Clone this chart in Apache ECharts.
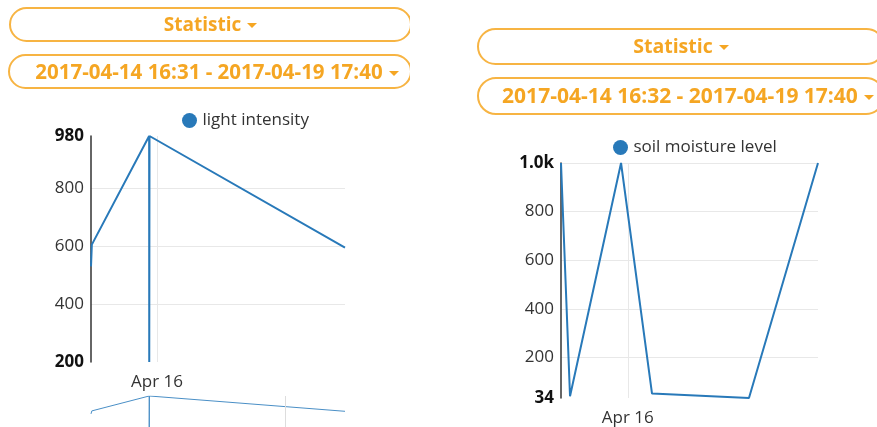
<!DOCTYPE html>
<html>
<head>
<meta charset="utf-8">
<script src="https://cdn.jsdelivr.net/npm/echarts@6/dist/echarts.min.js"></script>
<style>
  html, body { margin: 0; padding: 0; background: #fff; }
  body { width: 877px; height: 427px; position: relative; overflow: hidden; font-family: "Open Sans", sans-serif; }
  #chart { position: absolute; left: 0; top: 0; width: 877px; height: 427px; }
  .panel { position: absolute; top: 0; height: 427px; overflow: hidden; }
  .pill {
    position: absolute; box-sizing: border-box; background: #fff;
    border: 2px solid #f7b443; border-radius: 19px;
    color: #f5a623; font-weight: 700; font-size: 19px;
    text-align: center; white-space: nowrap;
  }
  .pill.date { font-size: 20.5px; }
  .right .pill { font-size: 19.5px; }
  .right .pill.date { font-size: 21px; }
  .caret {
    display: inline-block; width: 0; height: 0; margin-left: 6px; vertical-align: middle;
    border-top: 5px solid #f5a623; border-left: 5px solid transparent; border-right: 5px solid transparent;
  }
</style>
</head>
<body>
<div id="chart"></div>
<div class="panel" style="left:0;width:410px">
  <div class="pill" style="left:9px;top:7px;width:403px;height:35px;line-height:30px">Statistic<span class="caret"></span></div>
  <div class="pill date" style="left:8px;top:54px;width:404px;height:35px;line-height:30px;padding-left:14px">2017-04-14 16:31 - 2017-04-19 17:40<span class="caret"></span></div>
</div>
<div class="panel right" style="left:470px;width:407px">
  <div class="pill" style="left:7px;top:28px;width:408px;height:37px;line-height:32px">Statistic<span class="caret"></span></div>
  <div class="pill date" style="left:7px;top:77px;width:408px;height:38px;line-height:33px;padding-left:14px">2017-04-14 16:32 - 2017-04-19 17:40<span class="caret"></span></div>
</div>
<script>
const LIGHT_TIMES = ["2017-04-14 16:31", "2017-04-14 16:55", "2017-04-15 20:15", "2017-04-15 20:18", "2017-04-15 20:25", "2017-04-19 17:40"];
const LIGHT_VALUES = [530, 605, 980, 200, 980, 595];
const LIGHT_RANGE = ["2017-04-14 16:31", "2017-04-19 17:40"];
const LIGHT_Y_RANGE = [200, 980];

const SOIL_TIMES = ["2017-04-14 16:32", "2017-04-14 20:47", "2017-04-15 20:50", "2017-04-16 11:26", "2017-04-18 09:08", "2017-04-19 17:40"];
const SOIL_VALUES = [1000, 41, 1000, 52, 34, 1000];
const SOIL_RANGE = ["2017-04-14 16:32", "2017-04-19 17:40"];
const SOIL_Y_RANGE = [34, 1000];

const X_TICKS = ["2017-04-16 00:00"];
const OVERVIEW_MARK = "2017-04-18 13:03";
const MONTHS = ["Jan", "Feb", "Mar", "Apr", "May", "Jun", "Jul", "Aug", "Sep", "Oct", "Nov", "Dec"];

const FONT = "Open Sans";
const FONT_SIZE = 17;
const LINE_COLOR = "#2879b9";
const GRID_COLOR = "#e8e8e8";

function toTime(text) {
  return new Date(text.replace(" ", "T")).getTime();
}

function pairs(times, values) {
  return times.map((time, i) => [toTime(time), values[i]]);
}

function yLabel([min, max]) {
  return (value) => {
    const text = value >= 1000 ? (value / 1000).toFixed(1) + "k" : String(value);
    return value === min || value === max ? `{b|${text}}` : text;
  };
}

// timestamps on a value axis, so the single "Apr 16" tick can be placed by hand
function xAxis(gridIndex, range) {
  const ticks = X_TICKS.map(toTime);
  return {
    type: "value",
    gridIndex,
    min: toTime(range[0]),
    max: toTime(range[1]),
    axisLine: { show: false },
    axisTick: { show: false, customValues: ticks },
    axisLabel: {
      customValues: ticks,
      margin: 12,
      color: "#333",
      fontFamily: FONT,
      fontSize: FONT_SIZE,
      formatter: (value) => {
        const d = new Date(value);
        return `${MONTHS[d.getMonth()]} ${d.getDate()}`;
      }
    },
    splitLine: { show: true, lineStyle: { color: GRID_COLOR } }
  };
}

function yAxis(gridIndex, range, showMaxLine) {
  return {
    type: "value",
    gridIndex,
    min: range[0],
    max: range[1],
    axisLine: { show: true, lineStyle: { color: "#333", width: 1.5 } },
    axisTick: { show: false },
    axisLabel: {
      showMinLabel: true,
      showMaxLabel: true,
      margin: 7,
      color: "#333",
      fontFamily: FONT,
      fontSize: FONT_SIZE,
      formatter: yLabel(range),
      rich: { b: { fontWeight: "bold", color: "#111", fontFamily: FONT, fontSize: FONT_SIZE } }
    },
    splitLine: { lineStyle: { color: GRID_COLOR }, showMinLine: false, showMaxLine: showMaxLine }
  };
}

function legend(name, left, top) {
  return {
    data: [name],
    left,
    top,
    icon: "circle",
    itemWidth: 16,
    itemHeight: 15,
    itemGap: 4,
    textStyle: { color: "#333", fontFamily: FONT, fontSize: FONT_SIZE }
  };
}

const chart = echarts.init(document.getElementById("chart"));

chart.setOption({
  animation: false,
  color: [LINE_COLOR],
  legend: [legend("light intensity", 177, 107), legend("soil moisture level", 608, 134)],
  grid: [
    { left: 91, top: 136, width: 254, height: 226 },
    { left: 561, top: 163, width: 257, height: 235 },
    { left: 91, top: 396, width: 254, height: 35 }
  ],
  xAxis: [
    xAxis(0, LIGHT_RANGE),
    xAxis(1, SOIL_RANGE),
    { type: "value", gridIndex: 2, min: toTime(LIGHT_RANGE[0]), max: toTime(LIGHT_RANGE[1]), show: false }
  ],
  yAxis: [
    yAxis(0, LIGHT_Y_RANGE, false),
    yAxis(1, SOIL_Y_RANGE, true),
    { type: "value", gridIndex: 2, min: LIGHT_Y_RANGE[0], max: LIGHT_Y_RANGE[1], show: false }
  ],
  series: [
    {
      name: "light intensity",
      type: "line",
      xAxisIndex: 0,
      yAxisIndex: 0,
      showSymbol: false,
      lineStyle: { width: 2, color: LINE_COLOR },
      itemStyle: { color: LINE_COLOR },
      data: pairs(LIGHT_TIMES, LIGHT_VALUES)
    },
    {
      name: "soil moisture level",
      type: "line",
      xAxisIndex: 1,
      yAxisIndex: 1,
      showSymbol: false,
      lineStyle: { width: 2, color: LINE_COLOR },
      itemStyle: { color: LINE_COLOR },
      data: pairs(SOIL_TIMES, SOIL_VALUES)
    },
    {
      name: "light intensity",
      type: "line",
      xAxisIndex: 2,
      yAxisIndex: 2,
      showSymbol: false,
      silent: true,
      lineStyle: { width: 1, color: "#4a8fc6" },
      data: pairs(LIGHT_TIMES, LIGHT_VALUES),
      markLine: {
        silent: true,
        symbol: "none",
        label: { show: false },
        lineStyle: { color: "#dddddd", type: "solid", width: 1 },
        data: [{ xAxis: toTime(OVERVIEW_MARK) }]
      }
    }
  ]
});
</script>
</body>
</html>
